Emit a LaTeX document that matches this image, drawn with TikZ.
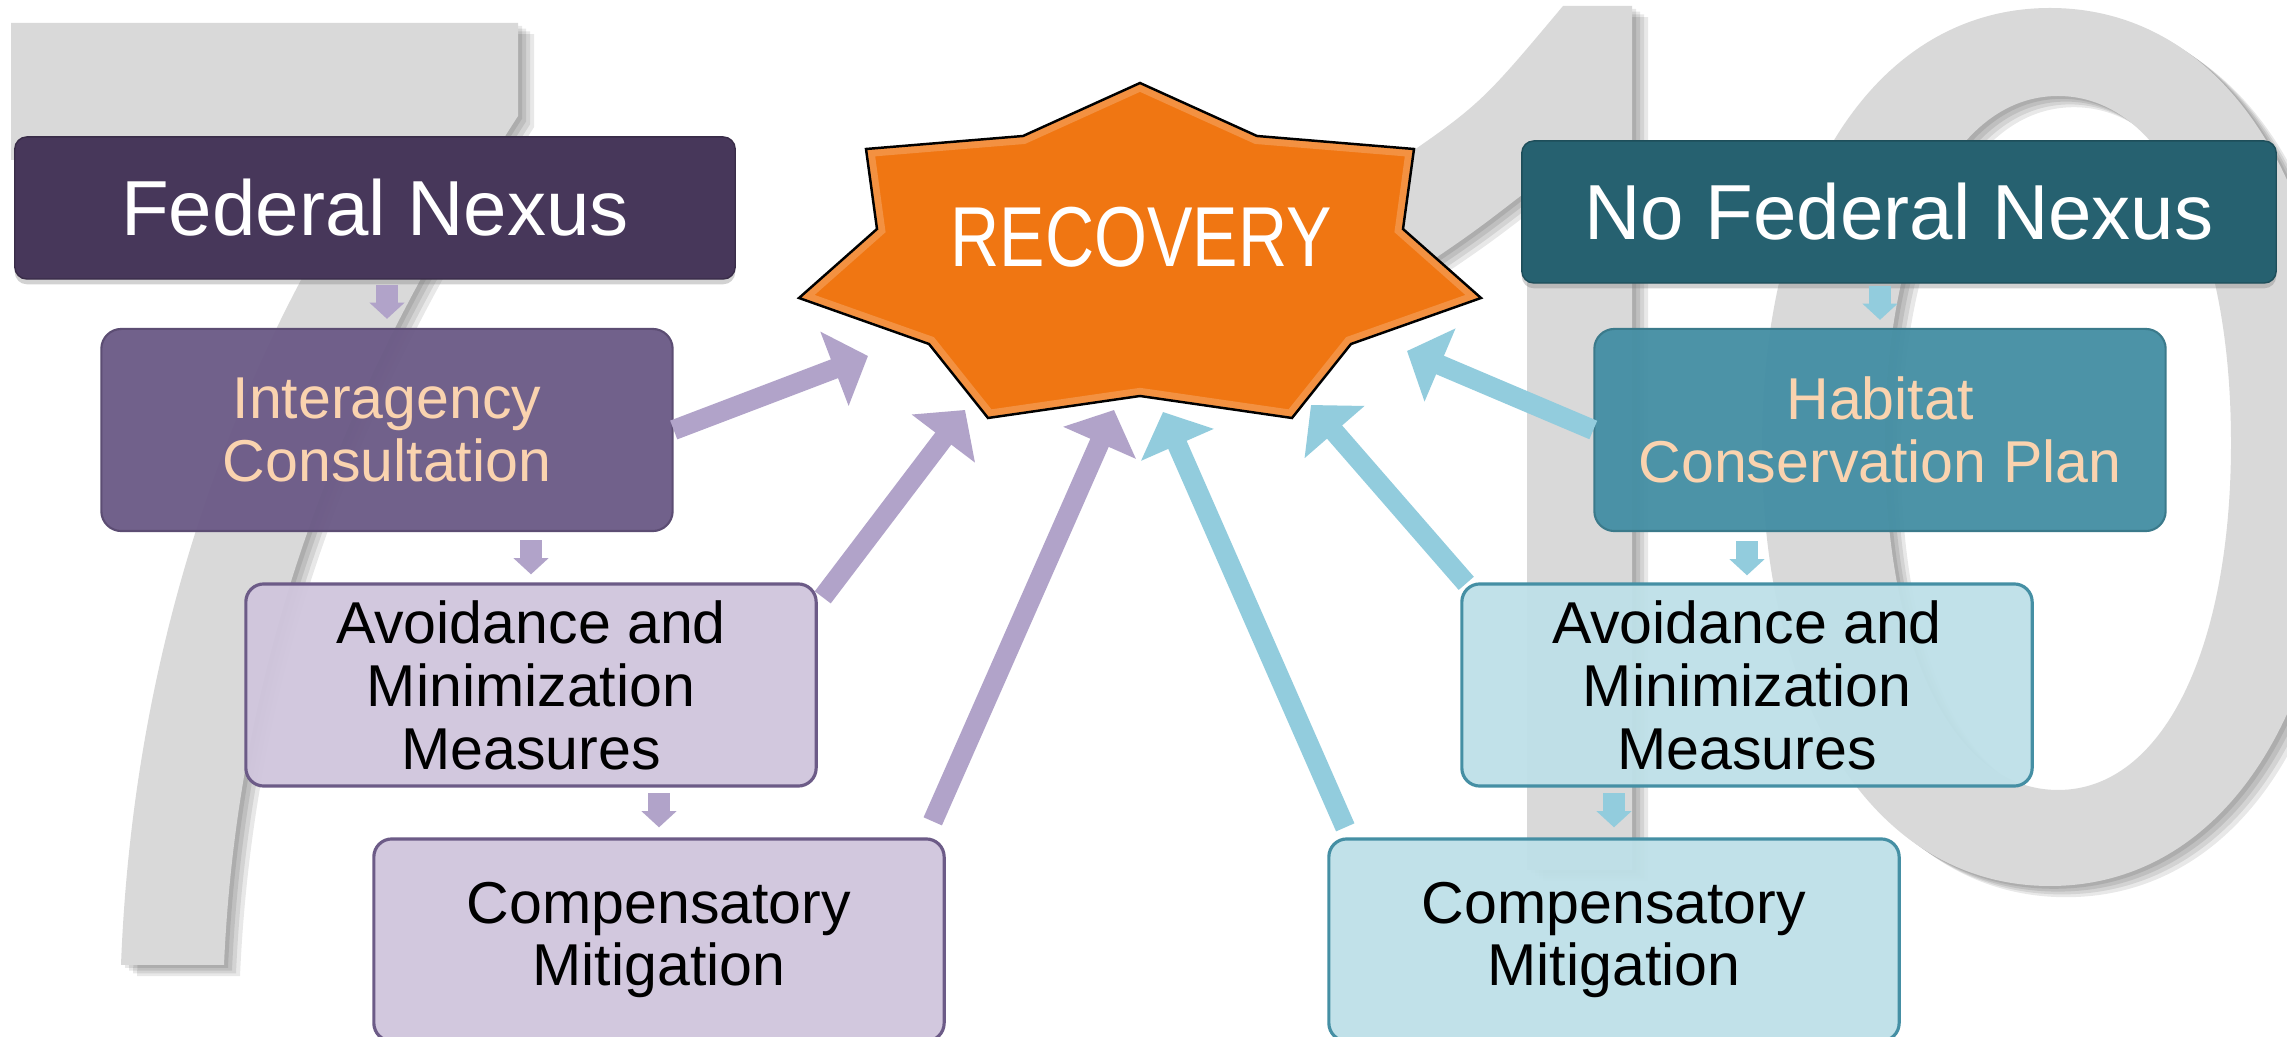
\documentclass[tikz,border=0pt]{standalone}
\usepackage{fontspec}
\setmainfont{Liberation Sans}
\usetikzlibrary{arrows.meta,calc,shadows}

\definecolor{fednexc}{HTML}{47375A}
\definecolor{interc}{HTML}{6C5B87}
\definecolor{lavfill}{HTML}{D0C6DD}
\definecolor{lavarr}{HTML}{B1A3C9}
\definecolor{nofedc}{HTML}{266170}
\definecolor{habc}{HTML}{458FA4}
\definecolor{bluefill}{HTML}{BEE0E8}
\definecolor{bluearr}{HTML}{92CCDD}
\definecolor{peach}{HTML}{FAD3AF}
\definecolor{recov}{HTML}{F07612}
\definecolor{digit}{HTML}{D9D9D9}

\newcommand{\sevenpath}{(11,23) -- (518,23) -- (518,116) .. controls (380,330) and (240,600) .. (224,965) -- (121,965) .. controls (135,600) and (260,330) .. (372,160) -- (11,160) -- cycle}
\newcommand{\onepath}{(1563,6) -- (1632,6) -- (1632,870) -- (1527,870) -- (1527,191) .. controls (1470,235) .. (1385,292) -- (1385,170) .. controls (1480,105) .. (1563,6) -- cycle}
\newcommand{\zeropath}{(1762,447) .. controls (1762,184) and (1877,8) .. (2050,8) .. controls (2223,8) and (2338,184) .. (2338,447) .. controls (2338,710) and (2223,886) .. (2050,886) .. controls (1877,886) and (1762,710) .. (1762,447) -- cycle
	(1885,443) .. controls (1885,235) and (1954,96) .. (2058,96) .. controls (2162,96) and (2231,235) .. (2231,443) .. controls (2231,651) and (2162,790) .. (2058,790) .. controls (1954,790) and (1885,651) .. (1885,443) -- cycle}
\newcommand{\recstar}{(1140,83) -- (1257,136) -- (1414,149) -- (1403,229) -- (1481,298) -- (1351,344) -- (1292,418) -- (1140,396) -- (988,418) -- (929,344) -- (799,298) -- (877,229) -- (866,149) -- (1023,136) -- cycle}

\begin{document}
\begin{tikzpicture}[x=0.01cm, y=-0.01cm,
		topbox/.style={rounded corners=0.12cm, text=white, minimum width=#1, minimum height=1.42cm, inner sep=0pt,
			font=\fontsize{22.2}{26.6}\selectfont, drop shadow={opacity=0.35, shadow xshift=0pt, shadow yshift=-1.5pt}},
		midbox/.style={rounded corners=0.2cm, minimum width=5.71cm, minimum height=2.02cm, inner sep=0pt, align=center,
			text=peach, line width=0.6pt, fill opacity=0.96, text opacity=1, font=\fontsize{16.8}{17.9}\selectfont},
		lowbox/.style={rounded corners=0.18cm, minimum width=5.7cm, minimum height=2.02cm, inner sep=0pt, align=center,
			line width=0.9pt, fill opacity=0.95, draw opacity=1, text opacity=1, font=\fontsize{16.8}{17.9}\selectfont},
		rectext/.style={text=white, inner sep=0pt, font=\fontsize{24.2}{28}\selectfont},
		bigarr/.style={line width=5.7pt, -{Triangle[width=22pt,length=10.2pt]}},
		downarr/.style={line width=6.3pt, -{Triangle[width=9.7pt,length=4.6pt]}}]
	\useasboundingbox (0,0) rectangle (2287,1037);
	\clip (0,0) rectangle (2287,1037);
	\fill[white] (0,0) rectangle (2287,1037);

	% the big 7 and 10 behind
	\foreach \d in {16,12,8,4}
		\fill[black, opacity=0.09, even odd rule, shift={(\d,0.7*\d)}] \sevenpath \onepath \zeropath;
	\fill[digit, even odd rule] \sevenpath \onepath \zeropath;

	% star
	\fill[recov] \recstar;
	\begin{scope}
		\clip \recstar;
		\draw[white, opacity=0.2, line width=4.6pt] \recstar;
	\end{scope}
	\draw[line width=0.7pt] \recstar;
	\node[rectext] (rec) at (1141,237) {\scalebox{0.8}[1]{RECOVERY}};

	% left column
	\node[topbox=7.2cm, fill=fednexc, draw=fednexc!80!black] (fed) at (375,208) {Federal Nexus};
	\node[midbox, fill=interc, draw=interc!85!black] (inter) at (387,430) {Interagency\\Consultation};
	\node[lowbox, fill=lavfill, draw=interc] (avl) at (531,685) {Avoidance and\\Minimization\\Measures};
	\node[lowbox, fill=lavfill, draw=interc] (cml) at (659,940) {Compensatory\\Mitigation};

	% right column
	\node[topbox=7.54cm, fill=nofedc, draw=nofedc!80!black] (nofed) at (1899,212) {No Federal Nexus};
	\node[midbox, fill=habc, draw=habc!85!black] (hab) at (1880,430) {Habitat\\Conservation Plan};
	\node[lowbox, fill=bluefill, draw=habc] (avr) at (1747,685) {Avoidance and\\Minimization\\Measures};
	\node[lowbox, fill=bluefill, draw=habc] (cmr) at (1614,940) {Compensatory\\Mitigation};

	\draw[downarr, lavarr] ($(inter.north)+(0,-43)$) -- ++(0,34);
	\draw[downarr, lavarr] ($(avl.north)+(0,-42)$) -- ++(0,34);
	\draw[downarr, lavarr] ($(cml.north)+(0,-44)$) -- ++(0,34);
	\draw[downarr, bluearr] ($(hab.north)+(0,-42)$) -- ++(0,34);
	\draw[downarr, bluearr] ($(avr.north)+(0,-41)$) -- ++(0,34);
	\draw[downarr, bluearr] ($(cmr.north)+(0,-44)$) -- ++(0,34);

	% arrows into the star
	\coordinate (t1) at (868,356);
	\coordinate (t2) at (965,410);
	\coordinate (t3) at (1114,410);
	\coordinate (t4) at (1163,412);
	\coordinate (t5) at (1311,405);
	\coordinate (t6) at (1407,351);
	\draw[bigarr, lavarr] (inter.east) -- (t1);
	\draw[bigarr, lavarr] ($(avl.north east)+(5,15)$) -- (t2);
	\draw[bigarr, lavarr] ($(cml.north east)+(-13,-16)$) -- (t3);
	\draw[bigarr, bluearr] ($(cmr.north west)+(18,-10)$) -- (t4);
	\draw[bigarr, bluearr] ($(avr.north west)+(6,1)$) -- (t5);
	\draw[bigarr, bluearr] (hab.west) -- (t6);
\end{tikzpicture}
\end{document}
